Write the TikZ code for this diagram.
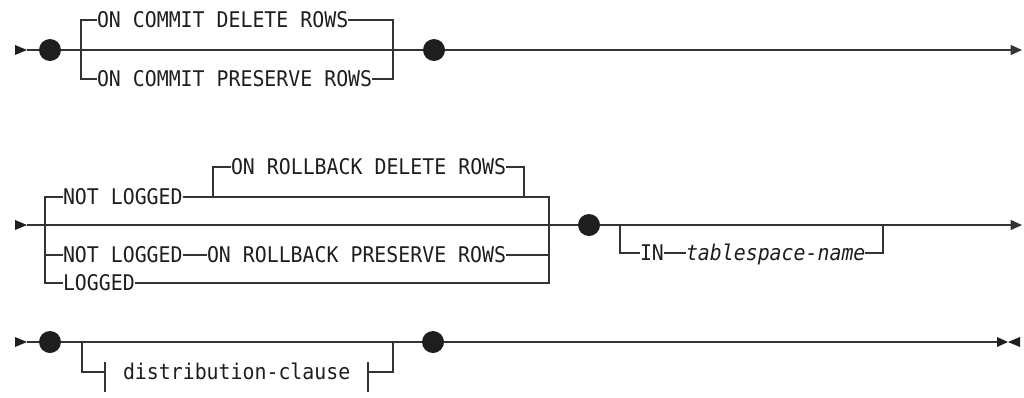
\documentclass[tikz,border=0pt]{standalone}
\usepackage{fontspec}
\setmonofont{DejaVu Sans Mono}[ItalicFont={DejaVu Sans Mono Oblique}, FakeStretch=0.92]
\usetikzlibrary{arrows.meta}
\usepackage{xcolor}
\definecolor{railgray}{HTML}{333333}
\definecolor{inkgray}{HTML}{1E1E1E}

\tikzset{
    startmark/.pic={\fill[inkgray] (-12,-5) -- (0,0) -- (-12,5) -- cycle;},
    stopmark/.pic={\fill[inkgray] (0,-5) -- (11,0) -- (0,5) -- cycle;
                   \fill[inkgray] (23,-5) -- (11,0) -- (23,5) -- cycle;},
}

\begin{document}
\begin{tikzpicture}[
    x=0.75pt, y=-0.75pt,
    kw/.style={font=\ttfamily\fontsize{16.2}{18}\selectfont, text=inkgray, inner sep=0pt, outer sep=0pt, anchor=west, text height=11.8pt, text depth=0pt},
    var/.style={kw, font=\ttfamily\itshape\fontsize{16.2}{18}\selectfont},
    rail/.style={draw=railgray, line width=1pt},
    arr/.style={rail, -{Triangle[length=8.5pt, width=7.5pt]}},
    dot/.style={circle, fill=inkgray, minimum size=16.5pt, inner sep=0pt},
    tick/.style={rail},
]
\useasboundingbox (0,0) rectangle (1024,397);

% first line
\coordinate (a1) at (27,50);
\node[dot] (d1) at (50,50) {};
\coordinate (b1l) at (81,50);
\node[kw] (cdel) at (97,20) {ON COMMIT DELETE ROWS};
\node[kw] (cpre) at (97,79) {ON COMMIT PRESERVE ROWS};
\coordinate (b1r) at (393,50);
\node[dot] (d2) at (434,50) {};
\coordinate (e1) at (1022,50);

\pic at (a1) {startmark};
\draw[rail] (a1) -- (d1) -- (d2);
\draw[arr] (d2) -- (e1);
\draw[rail] (b1l) |- (cdel.west);
\draw[rail] (cdel.east) -| (b1r);
\draw[rail] (b1l) |- (cpre.west);
\draw[rail] (cpre.east) -| (b1r);

% second line
\coordinate (a2) at (27,225);
\coordinate (b2l) at (45,225);
\node[kw] (nl1) at (63,197) {NOT LOGGED};
\coordinate (sbl) at (213,197);
\node[kw] (rdel) at (231,167) {ON ROLLBACK DELETE ROWS};
\coordinate (sbr) at (524,197);
\node[kw] (nl2) at (63,255) {NOT LOGGED};
\node[kw] (rpre) at (207,255) {ON ROLLBACK PRESERVE ROWS};
\node[kw] (lg) at (63,283) {LOGGED};
\coordinate (b2r) at (549,225);
\node[dot] (d3) at (589,225) {};
\coordinate (inl) at (620,225);
\node[kw] (in) at (640,253) {IN};
\node[var] (ts) at (686,253) {tablespace-name};
\coordinate (inr) at (883,225);
\coordinate (e2) at (1022,225);

\pic at (a2) {startmark};
\draw[rail] (a2) -- (d3);
\draw[arr] (d3) -- (e2);
\draw[rail] (b2l) |- (nl1.west);
\draw[rail] (nl1.east) -| (b2r);
\draw[rail] (sbl) |- (rdel.west);
\draw[rail] (rdel.east) -| (sbr);
\draw[rail] (b2l) |- (nl2.west);
\draw[rail] (nl2.east) -- (rpre.west);
\draw[rail] (rpre.east) -| (b2r);
\draw[rail] (b2l) |- (lg.west);
\draw[rail] (lg.east) -| (b2r);
\draw[rail] (inl) |- (in.west);
\draw[rail] (in.east) -- (ts.west);
\draw[rail] (ts.east) -| (inr);

% third line
\coordinate (a3) at (27,342);
\node[dot] (d4) at (50,342) {};
\coordinate (b3l) at (82,342);
\coordinate (tkl) at (105,372);
\node[kw] (dc) at (123,372) {distribution-clause};
\coordinate (tkr) at (368,372);
\coordinate (b3r) at (393,342);
\node[dot] (d5) at (433,342) {};
\coordinate (e3) at (997,342);

\pic at (a3) {startmark};
\draw[rail] (a3) -- (d4) -- (d5) -- (e3);
\pic at (e3) {stopmark};
\draw[rail] (b3l) |- (tkl);
\draw[tick] (tkl) ++(0,-10) -- ++(0,30);
\draw[tick] (tkr) ++(0,-10) -- ++(0,30);
\draw[rail] (tkr) -| (b3r);

\end{tikzpicture}
\end{document}
